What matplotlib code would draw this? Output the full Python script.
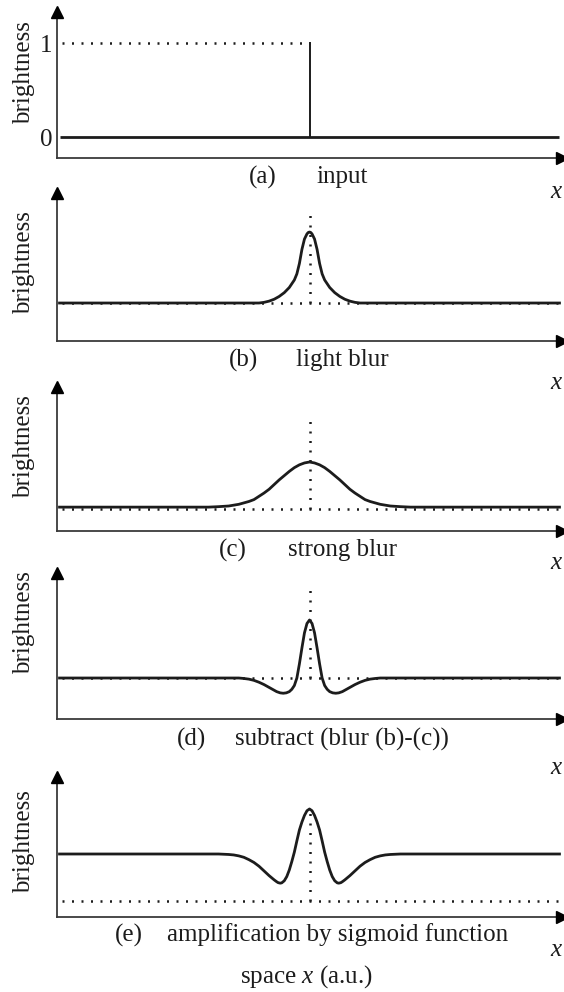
import matplotlib.pyplot as plt
import numpy as np

plt.rcParams["font.family"] = ["Liberation Serif", "DejaVu Serif"]
plt.rcParams["mathtext.fontset"] = "custom"
plt.rcParams["mathtext.rm"] = "Liberation Serif"
plt.rcParams["mathtext.it"] = "Liberation Serif:italic"

W, H = 564, 992
CENTER = 50.0
INK = "#1c1c1c"
AXIS = "#3a3a3a"

# (a) input: flat zero line with a sharp edge up to 1
input_x = [0.5, 99.5]
input_y = [0.0, 0.0]
edge_x = 50.0
edge_top = 1.0

# half profiles: offset from the center -> brightness
light_off = [0, 0.25, 0.5, 1, 1.5, 2, 2.5, 3, 4, 5, 6, 7, 8, 9, 10, 49.5]
light_val = [0.755, 0.75, 0.735, 0.68, 0.57, 0.42, 0.31, 0.245, 0.165, 0.11, 0.07, 0.04, 0.02,
             0.007, 0.0, 0.0]

strong_off = [0, 1, 2, 3, 4, 5, 6, 7, 8, 9, 10, 11, 12, 14, 16, 18, 20, 49.5]
strong_val = [0.50, 0.49, 0.47, 0.44, 0.40, 0.355, 0.31, 0.26, 0.21, 0.17, 0.135, 0.10, 0.08,
              0.05, 0.032, 0.025, 0.02, 0.02]

dog_off = [0, 0.5, 1, 1.5, 2, 2.5, 3, 3.5, 4, 4.6, 5.2, 5.8, 6.5, 7, 8, 9, 10, 11, 12, 13, 14, 49.5]
dog_val = [0.617, 0.58, 0.48, 0.32, 0.15, 0.0, -0.08, -0.12, -0.145, -0.158, -0.162, -0.158, -0.145,
           -0.13, -0.10, -0.07, -0.045, -0.025, -0.012, -0.005, 0.0, 0.0]

sig_off = [0, 0.5, 1, 1.5, 2, 2.5, 3, 3.5, 4, 4.5, 5, 5.5, 5.8, 6.2, 6.5, 7, 8, 9, 10, 11, 12,
           13, 14, 15, 16, 18, 49.5]
sig_val = [0.979, 0.96, 0.91, 0.84, 0.755, 0.64, 0.52, 0.42, 0.33, 0.26, 0.215, 0.193, 0.19,
           0.195, 0.205, 0.225, 0.27, 0.32, 0.37, 0.41, 0.44, 0.465, 0.48, 0.49, 0.495, 0.5, 0.5]

# height of the dotted centre marker in each blurred panel
marker_top = [0.957, 0.97, 0.968, 0.979]

letters = ["(a)", "(b)", "(c)", "(d)", "(e)"]
captions = ["input", "light blur", "strong blur", "subtract (blur (b)-(c))",
            "amplification by sigmoid function"]


def mirror(off, val):
    off = np.asarray(off, dtype=float)
    val = np.asarray(val, dtype=float)
    x = np.concatenate([CENTER - off[::-1], CENTER + off[1:]])
    y = np.concatenate([val[::-1], val[1:]])
    return x, y


def px_axes(fig, top, bottom, left=57, right=562):
    return fig.add_axes([left / W, 1 - bottom / H, (right - left) / W, (bottom - top) / H])


def style_axes(ax, ylim):
    ax.set_xlim(0, 100)
    ax.set_ylim(*ylim)
    for side in ("top", "right"):
        ax.spines[side].set_visible(False)
    for side in ("left", "bottom"):
        ax.spines[side].set_color(AXIS)
        ax.spines[side].set_linewidth(1.3)
    ax.set_xticks([])
    ax.set_yticks([])
    ax.patch.set_alpha(0)
    ax.plot([0], [1.0], marker="^", ms=8, color="black", transform=ax.transAxes,
            clip_on=False, zorder=6)
    ax.plot([1.0], [0], marker=">", ms=8, color="black", transform=ax.transAxes,
            clip_on=False, zorder=6)


def ftext(fig, x, y, s, **kw):
    fig.text(x / W, 1 - y / H, s, color=INK, **kw)


DOT = (0, (0.8, 3.0))
FS = 18

fig = plt.figure(figsize=(W / 100, H / 100), dpi=100)

# panel geometry in pixels: (arrow top, x-axis), y limits in brightness units
geom = [(12, 158, (-0.223, 1.33)),
        (193, 341, (-0.404, 1.17)),
        (387, 531, (-0.234, 1.298)),
        (573, 719, (-0.436, 1.117)),
        (777, 917, (-0.170, 1.319))]
axes = []
for top, bottom, ylim in geom:
    ax = px_axes(fig, top, bottom)
    style_axes(ax, ylim)
    axes.append(ax)

# (a)
ax = axes[0]
ax.plot(input_x, input_y, color=INK, lw=2.0, solid_capstyle="butt")
ax.plot([edge_x, edge_x], [0, edge_top], color=INK, lw=1.4)
ax.plot([1, edge_x], [edge_top, edge_top], color=INK, lw=1.8, ls=DOT)
ax.set_yticks([0, 1])
ax.set_yticklabels(["0", "1"], fontsize=FS, color=INK)
ax.tick_params(axis="y", length=0, pad=3)

# (b)-(e)
curves = [mirror(light_off, light_val), mirror(strong_off, strong_val),
          mirror(dog_off, dog_val), mirror(sig_off, sig_val)]
for ax, (cx, cy), mtop in zip(axes[1:], curves, marker_top):
    ax.plot([1, 99.5], [0, 0], color=INK, lw=1.8, ls=DOT, zorder=3)
    ax.plot([CENTER, CENTER], [0, mtop], color=INK, lw=1.8, ls=DOT, zorder=3)
    mask = (cx >= 0.5) & (cx <= 99.5)
    ax.plot(cx[mask], cy[mask], color=INK, lw=2.0, zorder=4)

# labels
ylab_y = [73, 263, 447, 623, 842]
for y in ylab_y:
    ftext(fig, 24, y, "brightness", fontsize=FS, rotation=90, ha="center", va="center")

cap_y = [177, 360, 550, 739, 935]
letter_x = [263, 243, 233, 191, 129]
cap_x = [342, 342, 343, 342, 338]
xlab_y = [192, 383, 563, 768, 950]
for i in range(5):
    ftext(fig, letter_x[i], cap_y[i], letters[i], fontsize=FS, ha="center", va="center")
    ftext(fig, cap_x[i], cap_y[i], captions[i], fontsize=FS, ha="center", va="center")
    ftext(fig, 563, xlab_y[i], "$x$", fontsize=FS, ha="right", va="center")

ftext(fig, 306, 977, "space $x$ (a.u.)", fontsize=FS, ha="center", va="center")

fig.savefig("out.png", dpi=100)
